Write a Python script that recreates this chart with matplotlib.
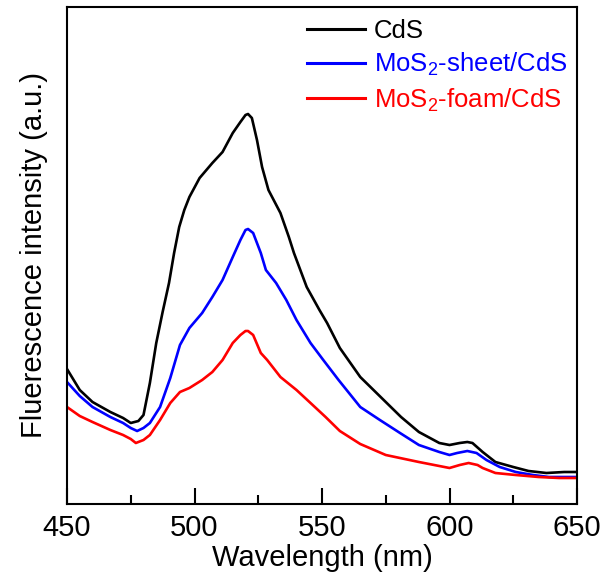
import numpy as np
import matplotlib.pyplot as plt

plt.rcParams['font.family'] = ['Liberation Sans', 'DejaVu Sans']
plt.rcParams['mathtext.fontset'] = 'custom'
plt.rcParams['mathtext.rm'] = 'Liberation Sans'
plt.rcParams['mathtext.it'] = 'Liberation Sans:italic'

# PL spectra, intensity in arbitrary units
wl_cds = [450, 455, 460, 467, 472, 475, 478, 480, 482.5, 485, 487.5, 490, 492, 494,
          496, 498, 502, 507, 511, 515, 518, 520, 521, 522.5, 524.5, 526.5, 529,
          533.7, 537, 539, 544, 549, 552, 557, 565, 573, 581, 588, 596, 600, 604,
          607, 609, 613, 618, 625, 631, 638, 645, 650]
px_cds = [369, 390, 402, 412, 418, 423, 421, 415, 383, 343, 312, 283, 253, 227,
          210, 197, 178, 163, 152, 133, 122, 115, 114, 118, 140, 167, 190,
          213, 237, 253, 287, 310, 323, 348, 377, 397, 417, 432, 443, 445, 443,
          442, 443, 452, 462, 467, 471, 473, 472, 472]

wl_sheet = [450, 455, 460, 467, 472, 475, 477.5, 480, 482.5, 486.5, 490.5, 494.3,
            498, 503, 507, 511, 515, 518, 520, 521, 523, 526, 528, 532, 536, 540,
            545.5, 550.5, 556.5, 565, 572.7, 580.6, 588, 596, 600, 603, 607,
            610.6, 614.5, 619.7, 626, 632.7, 639, 650]
px_sheet = [382, 396, 407, 417, 423, 428, 431, 428, 423, 407, 378, 345,
            328, 313, 297, 280, 257, 240, 230, 229, 233, 253, 270, 283, 300, 320,
            343, 360, 380, 407, 420, 433, 445, 452, 455, 453, 451,
            453, 460, 467, 472, 475, 477, 477]

wl_foam = [450, 455, 460, 467, 472, 475, 477, 480, 482.5, 486.5, 490.5, 494.3,
           498, 503, 507, 511, 515, 518, 520, 521, 523, 526, 528.5, 533.7, 540,
           545.5, 551.4, 557, 565, 575, 588, 596, 600, 604, 607.5, 611, 613,
           618, 626, 635, 643, 650]
px_foam = [407, 416, 422, 430, 435, 439, 443, 440, 435, 420, 403, 392,
           388, 380, 372, 360, 343, 335, 331, 331, 335, 353, 360, 377, 390,
           403, 417, 431, 444, 455, 462, 466, 468, 465, 463, 465, 468,
           473, 475, 477, 478, 478]

base = 504
cds = base - np.array(px_cds)
sheet = base - np.array(px_sheet)
foam = base - np.array(px_foam)

fig = plt.figure(figsize=(6.05, 5.85), dpi=100)
ax = fig.add_axes([67/605, 1-504/585, 510/605, 497/585])

ax.plot(wl_cds, cds, color='black', lw=1.9, label='CdS')
ax.plot(wl_sheet, sheet, color='blue', lw=1.9, label='MoS$_2$-sheet/CdS')
ax.plot(wl_foam, foam, color='red', lw=1.9, label='MoS$_2$-foam/CdS')

ax.set_xlim(450, 650)
ax.set_ylim(0, 497)
ax.set_xticks([450, 500, 550, 600, 650])
ax.set_xticks([475, 525, 575, 625], minor=True)
ax.set_yticks([])
ax.tick_params(axis='x', which='major', direction='in', length=11.5, width=1.5,
               labelsize=21, pad=7)
ax.tick_params(axis='x', which='minor', direction='in', length=6.5, width=1.5)
for s in ax.spines.values():
    s.set_linewidth(1.5)

ax.set_xlabel('Wavelength (nm)', fontsize=21, labelpad=2)
ax.set_ylabel('Fluerescence intensity (a.u.)', fontsize=21)
ax.yaxis.set_label_coords(-0.038, 0.5)

leg = ax.legend(loc='upper right', frameon=False, fontsize=18.5, handlelength=2.25,
                handletextpad=0.35, labelspacing=0.32, borderaxespad=0.0,
                bbox_to_anchor=(1.002, 0.997))
for txt, ln in zip(leg.get_texts(), leg.get_lines()):
    txt.set_color(ln.get_color())
    ln.set_linewidth(2.2)

fig.savefig('out.png', dpi=100)
